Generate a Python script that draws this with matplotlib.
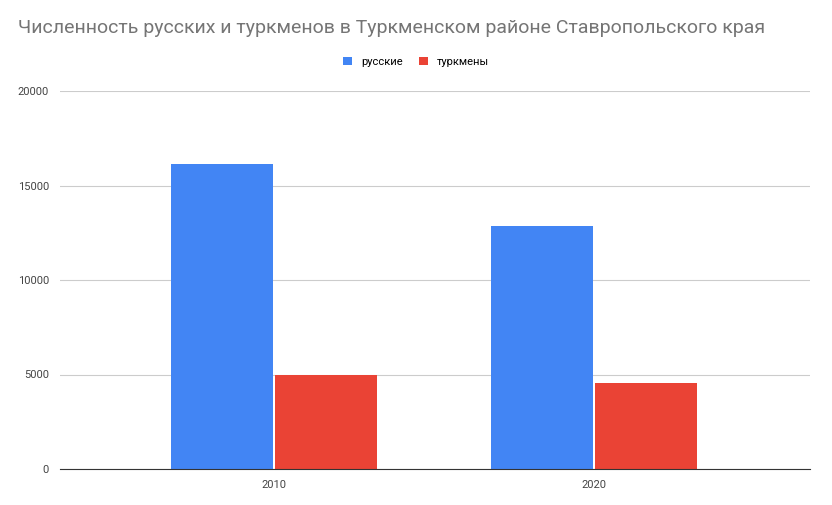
import matplotlib
matplotlib.use("Agg")
import matplotlib.pyplot as plt
import numpy as np

plt.rcParams['font.family'] = ['Roboto', 'DejaVu Sans']

years = ['2010', '2020']
russians = [16150, 12870]
turkmens = [4980, 4560]
yticks = [0, 5000, 10000, 15000, 20000]

fig = plt.figure(figsize=(8.32, 5.05), dpi=100)
ax = fig.add_axes([60/832, 36/505, 750/832, 378/505])

x = np.arange(len(years))
w = 0.319
ax.bar(x - w/2 - 0.003, russians, w, color='#4285f4', label='русские')
ax.bar(x + w/2 + 0.003, turkmens, w, color='#ea4335', label='туркмены')

ax.set_xlim(-0.669, 1.675)
ax.set_ylim(0, 20000)
ax.set_yticks(yticks)
ax.set_yticklabels([str(v) for v in yticks])
ax.set_xticks(x)
ax.set_xticklabels(years)
ax.grid(axis='y', color='#cccccc', linewidth=0.8)
ax.set_axisbelow(True)
for s in ['top', 'right', 'left']:
    ax.spines[s].set_visible(False)
ax.spines['bottom'].set_color('#333333')
ax.tick_params(length=0, labelsize=8, colors='#444444', pad=8)

fig.text(18/832, 1 - 28/505, 'Численность русских и туркменов в Туркменском районе Ставропольского края',
         fontsize=14, color='#757575', va='center')
fig.legend(loc='center', bbox_to_anchor=(0.5, 1 - 62/505), ncol=2, frameon=False,
           fontsize=8, handlelength=0.8, handleheight=0.8, columnspacing=1.5)

fig.savefig('out.png', dpi=100)
